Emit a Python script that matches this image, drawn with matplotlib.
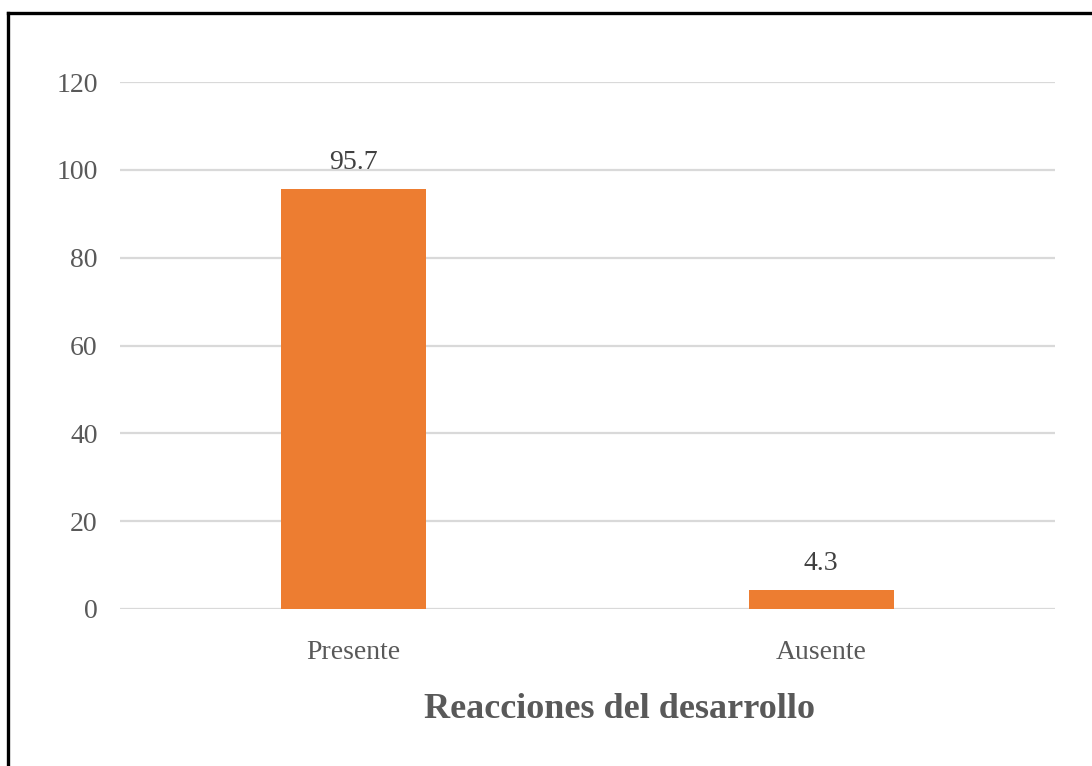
import matplotlib
matplotlib.use("Agg")
import matplotlib.pyplot as plt
from matplotlib.lines import Line2D

categories = ["Presente", "Ausente"]
values = [95.7, 4.3]
yticks = [0, 20, 40, 60, 80, 100, 120]
xlabel = "Reacciones del desarrollo"

plt.rcParams['font.family'] = ['Liberation Serif', 'DejaVu Serif']

W, H = 1092, 766
fig = plt.figure(figsize=(W / 100, H / 100), dpi=100)
fig.patch.set_facecolor('white')

ax = fig.add_axes([120 / W, 1 - 609 / H, (1055 - 120) / W, (609 - 82) / H])
x = range(len(categories))
bars = ax.bar(x, values, width=0.31, color='#ED7D31', zorder=3)
ax.set_xlim(-0.5, len(categories) - 0.5)
ax.set_ylim(0, 120)
ax.set_yticks(yticks)
ax.set_yticklabels([str(t) for t in yticks])
ax.set_xticks(list(x))
ax.set_xticklabels(categories)
ax.grid(axis='y', color='#d9d9d9', linewidth=1.6, zorder=0)
for s in ax.spines.values():
    s.set_visible(False)
ax.tick_params(axis='both', length=0, labelsize=20, colors='#595959')
ax.tick_params(axis='y', pad=16)
ax.tick_params(axis='x', pad=22)

for b, v in zip(bars, values):
    ax.annotate(f"{v}", (b.get_x() + b.get_width() / 2, v), xytext=(0, 10),
                textcoords='offset points', ha='center', va='bottom',
                fontsize=20, color='#404040')

fig.text(620 / W, 1 - 710 / H, xlabel, ha='center', va='center',
         fontsize=26, fontweight='bold', color='#595959')

fig.add_artist(Line2D([8 / W, 8 / W], [0, 1 - 13 / H], transform=fig.transFigure,
                      color='black', linewidth=2.4))
fig.add_artist(Line2D([8 / W, 1], [1 - 13 / H, 1 - 13 / H], transform=fig.transFigure,
                      color='black', linewidth=2.4))

fig.savefig("out.png", dpi=100, facecolor='white')
